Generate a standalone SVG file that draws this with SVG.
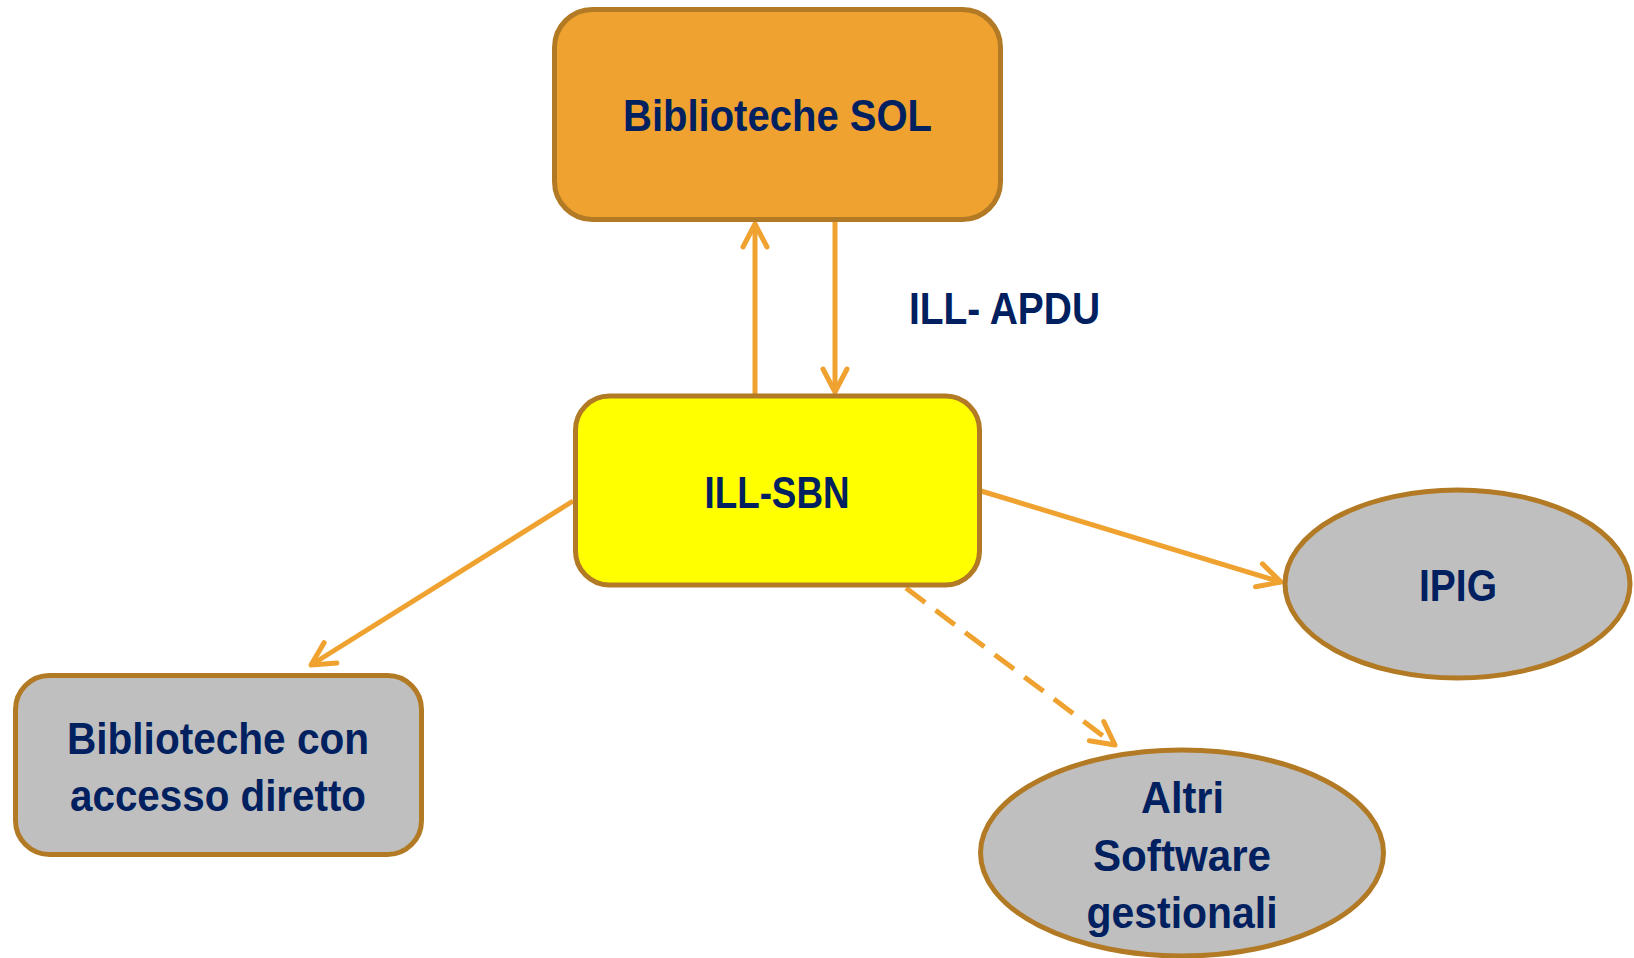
<svg xmlns="http://www.w3.org/2000/svg" width="1634" height="958" viewBox="0 0 1634 958">
<style>
.node{stroke:#B27A24;stroke-width:5}
.lbl{font-family:"Liberation Sans",Arial,sans-serif;font-weight:bold;font-size:44px;fill:#002060;text-anchor:middle}
.conn{stroke:#EFA22F;stroke-width:5;fill:none}
.dash{stroke-dasharray:24 13}
</style>
<defs>
<marker id="arr" markerUnits="userSpaceOnUse" markerWidth="34" markerHeight="34" refX="28" refY="16" orient="auto" overflow="visible">
<path d="M5,4 L28,16 L5,28" fill="none" stroke="#EFA22F" stroke-width="5" stroke-linecap="round" stroke-linejoin="round"/>
</marker>
</defs>
<rect width="1634" height="958" fill="#FFFFFF"/>
<g id="connectors">
<line class="conn" x1="755" y1="394" x2="755" y2="224" marker-end="url(#arr)"/>
<line class="conn" x1="835" y1="222" x2="835" y2="392" marker-end="url(#arr)"/>
<line class="conn" x1="573" y1="501" x2="311" y2="665" marker-end="url(#arr)"/>
<line class="conn" x1="981" y1="491" x2="1281" y2="582" marker-end="url(#arr)"/>
<line class="conn dash" x1="906" y1="588" x2="1115" y2="745" marker-end="url(#arr)"/>
</g>
<g id="node-sol">
<rect class="node" x="554.5" y="9.5" width="446" height="210" rx="38" fill="#EFA22F"/>
<text class="lbl" x="777.5" y="131" textLength="309" lengthAdjust="spacingAndGlyphs">Biblioteche SOL</text>
</g>
<g id="label-apdu">
<text class="lbl" x="1004.5" y="324" textLength="191" lengthAdjust="spacingAndGlyphs">ILL- APDU</text>
</g>
<g id="node-illsbn">
<rect class="node" x="575.5" y="396" width="404" height="189" rx="34" fill="#FFFF00"/>
<text class="lbl" x="777" y="507.5" textLength="145" lengthAdjust="spacingAndGlyphs">ILL-SBN</text>
</g>
<g id="node-diretto">
<rect class="node" x="15.5" y="675.5" width="406" height="179" rx="34" fill="#BFBFBF"/>
<text class="lbl" x="218" y="753.5" textLength="302" lengthAdjust="spacingAndGlyphs">Biblioteche con</text>
<text class="lbl" x="218" y="811" textLength="296" lengthAdjust="spacingAndGlyphs">accesso diretto</text>
</g>
<g id="node-ipig">
<ellipse class="node" cx="1457.5" cy="584" rx="172.5" ry="94" fill="#BFBFBF"/>
<text class="lbl" x="1458" y="601" textLength="78" lengthAdjust="spacingAndGlyphs">IPIG</text>
</g>
<g id="node-altri">
<ellipse class="node" cx="1182" cy="853" rx="201.5" ry="103" fill="#BFBFBF"/>
<text class="lbl" x="1182.5" y="813" textLength="83" lengthAdjust="spacingAndGlyphs">Altri</text>
<text class="lbl" x="1182" y="871" textLength="178" lengthAdjust="spacingAndGlyphs">Software</text>
<text class="lbl" x="1182" y="928" textLength="191" lengthAdjust="spacingAndGlyphs">gestionali</text>
</g>
</svg>
